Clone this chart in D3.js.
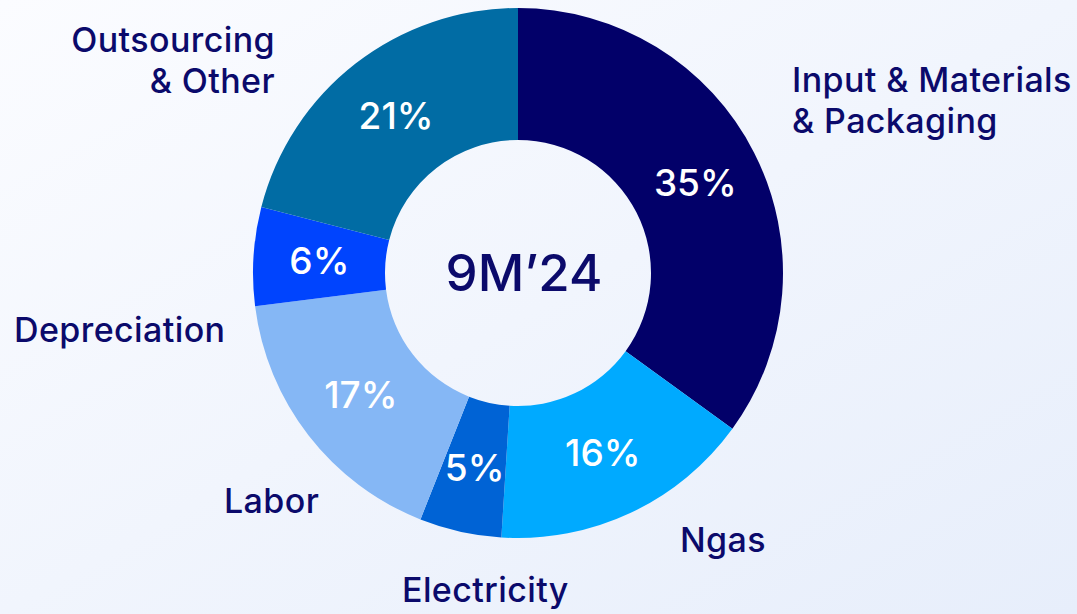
<!DOCTYPE html>
<html>
<head>
<meta charset="utf-8">
<script src="https://cdn.jsdelivr.net/npm/d3@7"></script>
<style>
  html, body { margin: 0; padding: 0; }
  body { width: 1077px; height: 614px; overflow: hidden; }
  svg { display: block; font-family: Inter, "Noto Sans", sans-serif; }
</style>
</head>
<body>
<svg id="chart" width="1077" height="614"></svg>
<script>
// Cost structure breakdown, 9M'24
const categories = ["Input & Materials & Packaging", "Ngas", "Electricity", "Labor", "Depreciation", "Outsourcing & Other"];
const shares = [35, 16, 5, 17, 6, 21];
const colors = ["#020069", "#00aaff", "#0063d5", "#85b7f5", "#0044fe", "#016ca4"];
const centerTitle = "9M’24";

// Outer labels: lines of text, anchor and position
const outerLabels = [
  { lines: ["Input & Materials", "& Packaging"], x: 792, y: 92, anchor: "start" },
  { lines: ["Ngas"], x: 680, y: 552, anchor: "start" },
  { lines: ["Electricity"], x: 402, y: 602, anchor: "start" },
  { lines: ["Labor"], x: 224, y: 513, anchor: "start" },
  { lines: ["Depreciation"], x: 14, y: 342, anchor: "start" },
  { lines: ["Outsourcing", "& Other"], x: 275, y: 52, anchor: "end" }
];

const W = 1077, H = 614;
const cx = 518, cy = 273, rOuter = 265, rInner = 133;
const navy = "#0b0a6b";

const svg = d3.select("#chart");

// soft diagonal background
const defs = svg.append("defs");
const grad = defs.append("linearGradient").attr("id", "bg")
  .attr("x1", "0%").attr("y1", "0%").attr("x2", "100%").attr("y2", "100%");
grad.append("stop").attr("offset", "0%").attr("stop-color", "#fbfcff");
grad.append("stop").attr("offset", "100%").attr("stop-color", "#e7eefb");
svg.append("rect").attr("width", W).attr("height", H).attr("fill", "url(#bg)");

const pie = d3.pie().value(d => d).sort(null);
const arc = d3.arc().innerRadius(rInner).outerRadius(rOuter);
const arcs = pie(shares);

const g = svg.append("g").attr("transform", `translate(${cx},${cy})`);

g.selectAll("path.slice")
  .data(arcs)
  .join("path")
  .attr("class", "slice")
  .attr("d", arc)
  .attr("fill", (d, i) => colors[i]);

g.selectAll("text.pct")
  .data(arcs)
  .join("text")
  .attr("class", "pct")
  .attr("transform", d => `translate(${arc.centroid(d)})`)
  .attr("text-anchor", "middle")
  .attr("dy", "0.36em")
  .attr("fill", "#ffffff")
  .attr("font-size", 37)
  .attr("font-weight", 500)
  .text(d => d.data + "%");

g.append("text")
  .attr("text-anchor", "middle")
  .attr("dx", 6)
  .attr("dy", "0.36em")
  .attr("fill", navy)
  .attr("font-size", 51)
  .attr("font-weight", 500)
  .text(centerTitle);

// category labels around the ring
const lbl = svg.append("g");
outerLabels.forEach((L, i) => {
  const t = lbl.append("text")
    .attr("x", L.x).attr("y", L.y)
    .attr("text-anchor", L.anchor)
    .attr("fill", navy)
    .attr("font-size", 34)
    .attr("font-weight", 500)
    .attr("letter-spacing", 0.4)
    .attr("aria-label", categories[i]);
  L.lines.forEach((line, j) => {
    t.append("tspan").attr("x", L.x).attr("dy", j === 0 ? 0 : 41).text(line);
  });
});
</script>
</body>
</html>
